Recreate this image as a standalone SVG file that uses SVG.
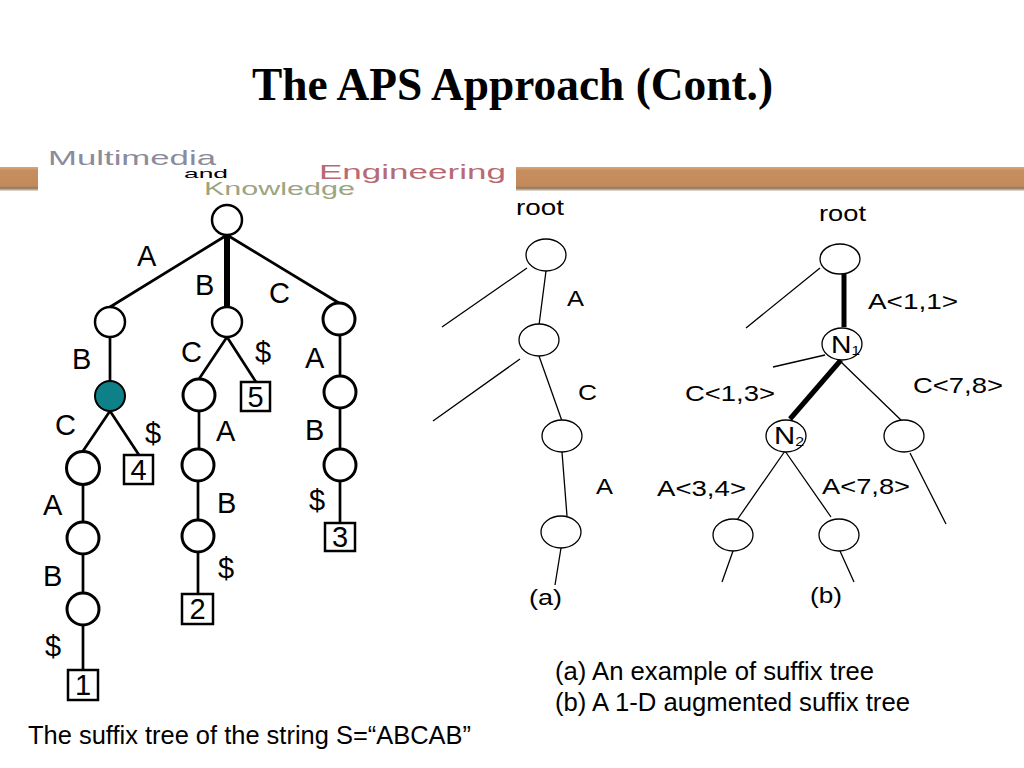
<svg xmlns="http://www.w3.org/2000/svg" width="1024" height="768" viewBox="0 0 1024 768">
<style>
text{font-family:"Liberation Sans",Arial,sans-serif;fill:#000}
.t{font-family:"Liberation Serif","Times New Roman",serif;font-weight:bold;font-size:46px}
.l{font-size:29px}
.s{font-size:22px}
.c{font-size:25px}
.n{fill:#fff;stroke:#000;stroke-width:3}
.b{fill:#fff;stroke:#000;stroke-width:2.500}
.m{fill:#fff;stroke:#000;stroke-width:1.300}
.e{fill:none;stroke:#000;stroke-width:2.700}
.f{fill:none;stroke:#000;stroke-width:1.300}
.h{fill:none;stroke:#000;stroke-width:5}
.logo{font-size:21px}
</style>
<defs><linearGradient id="band" x1="0" y1="0" x2="0" y2="1"><stop offset="0" stop-color="#d9a77e"/><stop offset=".15" stop-color="#c68e5e"/><stop offset=".8" stop-color="#c4895a"/><stop offset=".88" stop-color="#8c7560"/><stop offset="1" stop-color="#ece2d6"/></linearGradient></defs>
<rect width="1024" height="768" fill="#fff"/>
<text class="t" x="252" y="100" textLength="521" lengthAdjust="spacingAndGlyphs">The APS Approach (Cont.)</text>
<g id="banner">
<rect x="0" y="167" width="38" height="24" fill="url(#band)"/>
<rect x="516" y="167" width="508" height="24" fill="url(#band)"/>
<text class="logo" x="48" y="165" style="fill:#8b8b9b" textLength="168" lengthAdjust="spacingAndGlyphs">Multimedia</text>
<text x="184" y="178" font-size="13" textLength="44" lengthAdjust="spacingAndGlyphs">and</text>
<text x="204" y="195" font-size="18" style="fill:#9aa582" textLength="151" lengthAdjust="spacingAndGlyphs">Knowledge</text>
<text class="logo" x="319" y="179" style="fill:#b86a74" textLength="187" lengthAdjust="spacingAndGlyphs">Engineering</text>
</g>
<g id="connectors">
<path class="e" d="M227 235 110 307M227 235 339 303M110 337V381M110 411 83 451M110 411 139 455M227 337 199 379M227 337 256 382M199 411V449M198 481V520M83 485V521M83 555V592M83 626V670M198 552V594M340 335V376M340 408V449M340 481V523"/>
<path class="h" d="M227 235V308" style="stroke-width:6"/>
<path class="f" d="M546 271 539 325M527 268 442 327M539 356 562 421M520 359 433 421M562 452 567 516M561 548 555 585M820 268 746 328M825 355 773 367M840 361 902 421M785 451 737 520M785 451 831 517M910 453 946 524M733 551 722 582M840 551 854 582"/>
<path class="h" d="M844 274V327"/>
<path class="h" d="M841 360 790 419"/>
</g>
<g id="n0"><circle class="b" cx="227" cy="220" r="15"/></g>
<g id="n1"><circle class="b" cx="110" cy="322" r="15"/></g>
<g id="n2"><circle class="b" cx="227" cy="322" r="15"/></g>
<g id="n3"><circle class="n" cx="339" cy="319" r="16"/></g>
<g id="n4"><circle cx="110" cy="396" r="15" fill="#0e8088" stroke="#000" stroke-width="2"/></g>
<g id="n5"><circle class="n" cx="199" cy="395" r="16"/></g>
<g id="n6"><circle class="n" cx="340" cy="392" r="16"/></g>
<g id="n7"><circle class="n" cx="83" cy="468" r="16.500"/></g>
<g id="n8"><circle class="n" cx="198" cy="465" r="16"/></g>
<g id="n9"><circle class="n" cx="340" cy="465" r="16"/></g>
<g id="n10"><circle class="n" cx="83" cy="538" r="16"/></g>
<g id="n11"><circle class="n" cx="198" cy="536" r="16"/></g>
<g id="n12"><circle class="n" cx="83" cy="609" r="16"/></g>
<g id="leaf5"><rect class="b" x="241" y="382" width="29" height="29"/><text class="l" x="255.500" y="407" text-anchor="middle">5</text></g>
<g id="leaf4"><rect class="b" x="124" y="455" width="29" height="29"/><text class="l" x="138.500" y="480" text-anchor="middle">4</text></g>
<g id="leaf3"><rect class="b" x="325" y="523" width="30" height="28"/><text class="l" x="340" y="547" text-anchor="middle">3</text></g>
<g id="leaf2"><rect class="b" x="182" y="594" width="31" height="30"/><text class="l" x="197.500" y="619" text-anchor="middle">2</text></g>
<g id="leaf1"><rect class="b" x="68" y="670" width="30" height="30"/><text class="l" x="83" y="695" text-anchor="middle">1</text></g>
<g id="edge-labels-left">
<text class="l" x="137" y="266">A</text><text class="l" x="195" y="295">B</text><text class="l" x="269" y="303">C</text>
<text class="l" x="72" y="369">B</text><text class="l" x="181" y="362">C</text><text class="l" x="255" y="362">$</text><text class="l" x="305" y="368">A</text>
<text class="l" x="55" y="435">C</text><text class="l" x="145" y="443">$</text><text class="l" x="216" y="441">A</text><text class="l" x="305" y="440">B</text>
<text class="l" x="43" y="515">A</text><text class="l" x="217" y="513">B</text><text class="l" x="309" y="510">$</text>
<text class="l" x="43" y="586">B</text><text class="l" x="218" y="578">$</text><text class="l" x="45" y="656">$</text>
</g>
<g id="a0"><ellipse class="m" cx="546" cy="255" rx="20" ry="16"/></g>
<g id="a1"><ellipse class="m" cx="539" cy="340" rx="20" ry="16"/></g>
<g id="a2"><ellipse class="m" cx="562" cy="436" rx="20" ry="16"/></g>
<g id="a3"><ellipse class="m" cx="561" cy="532" rx="20" ry="16"/></g>
<g id="b0"><ellipse class="m" cx="840" cy="259" rx="20" ry="15"/></g>
<g id="b1"><ellipse class="m" cx="842" cy="344" rx="20" ry="16"/><text x="831" y="353" font-size="24" textLength="29" lengthAdjust="spacingAndGlyphs">N<tspan font-size="13" dy="2">1</tspan></text></g>
<g id="b2"><ellipse class="m" cx="786" cy="436" rx="20" ry="16"/><text x="774" y="444" font-size="24" textLength="30" lengthAdjust="spacingAndGlyphs">N<tspan font-size="13" dy="2">2</tspan></text></g>
<g id="b3"><ellipse class="m" cx="904" cy="436" rx="20" ry="16"/></g>
<g id="b4"><ellipse class="m" cx="733" cy="535" rx="20" ry="16"/></g>
<g id="b5"><ellipse class="m" cx="839" cy="535" rx="20" ry="16"/></g>
<g id="labels-right">
<text class="s" x="516" y="215" textLength="48" lengthAdjust="spacingAndGlyphs">root</text>
<text class="s" x="819" y="221" textLength="47" lengthAdjust="spacingAndGlyphs">root</text>
<text class="s" x="567" y="306" textLength="17" lengthAdjust="spacingAndGlyphs">A</text><text class="s" x="578" y="400" textLength="19" lengthAdjust="spacingAndGlyphs">C</text><text class="s" x="596" y="494" textLength="17" lengthAdjust="spacingAndGlyphs">A</text>
<text class="s" x="529" y="605" textLength="33" lengthAdjust="spacingAndGlyphs">(a)</text>
<text class="s" x="810" y="603" textLength="32" lengthAdjust="spacingAndGlyphs">(b)</text>
<text class="s" x="868" y="309" textLength="90" lengthAdjust="spacingAndGlyphs">A&lt;1,1&gt;</text>
<text class="s" x="913" y="393" textLength="90" lengthAdjust="spacingAndGlyphs">C&lt;7,8&gt;</text>
<text class="s" x="685" y="401" textLength="90" lengthAdjust="spacingAndGlyphs">C&lt;1,3&gt;</text>
<text class="s" x="657" y="496" textLength="89" lengthAdjust="spacingAndGlyphs">A&lt;3,4&gt;</text>
<text class="s" x="822" y="494" textLength="88" lengthAdjust="spacingAndGlyphs">A&lt;7,8&gt;</text>
</g>
<g id="captions">
<text class="c" x="555" y="680" textLength="319" lengthAdjust="spacingAndGlyphs">(a) An example of suffix tree</text>
<text class="c" x="555" y="711" textLength="355" lengthAdjust="spacingAndGlyphs">(b) A 1-D augmented suffix tree</text>
<text class="c" x="28" y="744" textLength="443" lengthAdjust="spacingAndGlyphs">The suffix tree of the string S=“ABCAB”</text>
</g>
</svg>
